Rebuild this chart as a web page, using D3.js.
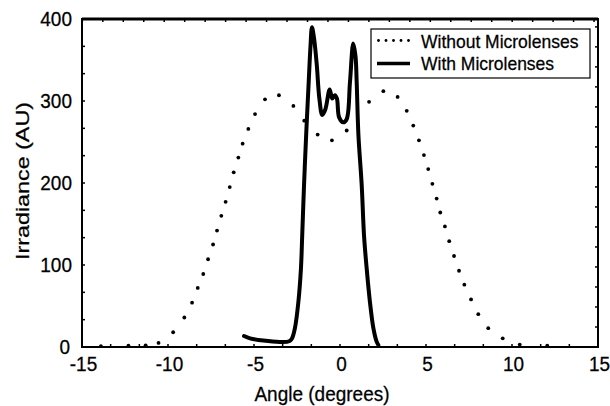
<!DOCTYPE html>
<html lang="en">
<head>
  <meta charset="UTF-8">
  <title>Irradiance vs Angle</title>
  <style>
    body { margin: 0; background: #fff; }
    svg text { font-family: "Liberation Sans", Arial, sans-serif; fill: #000; stroke: #000; stroke-width: 0.25px; }
  </style>
  <script src="https://d3js.org/d3.v7.min.js"></script>
</head>
<body>
<div id="chart"></div>
<script>
  // Without microlenses (dotted)
  var withoutX = [-13.9, -12.3, -11.3, -10.55, -9.7, -9.05, -8.6, -8.27, -7.95, -7.67, -7.38, -7.15, -6.9, -6.65, -6.41, -6.18, -5.91, -5.66, -5.33, -4.94,
                  -4.36, -3.55, -2.71, -2.08, -1.3, -0.47, 0.39, 1.69, 2.52, 3.35, 3.88, 4.26, 4.59, 4.88, 5.13, 5.37, 5.62, 5.83, 6.1, 6.35,
                  6.63, 6.92, 7.23, 7.62, 8.04, 8.62, 9.46, 10.45, 12.05];
  var withoutY = [1, 1.5, 2, 5, 18, 36, 54, 72, 89, 107, 125, 142, 160, 177, 195, 213, 231, 248, 266, 284,
                  302, 307, 294, 276, 259, 252, 264, 299, 312, 305, 288, 270, 252, 234, 217, 199, 181, 164, 147, 129,
                  111, 93, 76, 58, 40, 23, 10.6, 3, 1.5];

  // With microlenses (solid)
  var withX = [-5.58, -5.23, -4.46, -3.49, -2.95, -2.8, -2.62, -2.42, -2.27, -2.2, -2.09, -1.96, -1.82, -1.72, -1.63, -1.5, -1.35, -1.2, -1.03, -0.85,
               -0.6, -0.45, -0.3, -0.18, -0.05, 0.19, 0.39, 0.58, 0.77, 0.9, 0.97, 1.07, 1.26, 1.4, 1.55, 1.74, 1.94, 2.13, 2.23];
  var withY = [13.4, 10.6, 7.8, 6.2, 7, 10, 23, 55, 96, 134, 198, 262, 323, 365, 390, 375, 344, 303, 283, 290,
               314, 303, 307, 303, 280, 274, 278, 323, 370, 355, 323, 259, 198, 135, 96, 55, 23, 6.5, 2.4];

  var xTicks = [-15, -10, -5, 0, 5, 10, 15];
  var yTicks = [0, 100, 200, 300, 400];
  var legendLabels = ["Without Microlenses", "With Microlenses"];

  var width = 610, height = 406;
  var margin = { top: 19, right: 12, bottom: 59, left: 82 };

  var svg = d3.select("#chart").append("svg")
    .attr("width", width)
    .attr("height", height);

  var x = d3.scaleLinear().domain([-15, 15]).range([margin.left, width - margin.right]);
  var y = d3.scaleLinear().domain([0, 400]).range([height - margin.bottom, margin.top]);

  // minor ticks (inward)
  var tickLen = 3;
  var g = svg.append("g").attr("stroke", "#000").attr("stroke-width", 1.5);
  d3.range(-15, 15.01, 5 / 3).forEach(v => {
    g.append("line").attr("x1", x(v)).attr("x2", x(v)).attr("y1", y(0)).attr("y2", y(0) - tickLen);
  });
  d3.range(-14.98, 15, 1.19).forEach(v => {
    g.append("line").attr("x1", x(v)).attr("x2", x(v)).attr("y1", y(400)).attr("y2", y(400) + tickLen);
  });
  d3.range(0, 400.01, 100 / 3).forEach(v => {
    g.append("line").attr("x1", x(-15)).attr("x2", x(-15) + tickLen).attr("y1", y(v)).attr("y2", y(v));
  });
  d3.range(0, 400, 24.4).forEach(v => {
    g.append("line").attr("x1", x(15)).attr("x2", x(15) - tickLen).attr("y1", y(v)).attr("y2", y(v));
  });

  // frame
  svg.append("rect")
    .attr("x", x(-15)).attr("y", y(400))
    .attr("width", x(15) - x(-15)).attr("height", y(0) - y(400))
    .attr("fill", "none").attr("stroke", "#000").attr("stroke-width", 2);
  svg.append("line")
    .attr("x1", x(-15)).attr("x2", x(15)).attr("y1", y(400)).attr("y2", y(400))
    .attr("stroke", "#000").attr("stroke-width", 3);

  // tick labels (scan is slightly stretched vertically)
  svg.append("g").selectAll("text")
    .data(xTicks).enter().append("text")
    .attr("transform", d => "translate(" + (x(d) + 1.5) + "," + (y(0) + 23.5) + ") scale(1,1.1)")
    .attr("text-anchor", "middle").attr("font-size", 19)
    .text(d => d < 0 ? "-" + Math.abs(d) : d);

  svg.append("g").selectAll("text")
    .data(yTicks).enter().append("text")
    .attr("transform", d => "translate(" + (x(-15) - (d === 0 ? 12 : 10)) + "," + (y(d) + 7) + ") scale(1,1.1)")
    .attr("text-anchor", "end").attr("font-size", 19)
    .text(d => d);

  // axis titles
  svg.append("text")
    .attr("transform", "translate(322,401) scale(1,1.1)")
    .attr("text-anchor", "middle").attr("font-size", 19)
    .text("Angle (degrees)");

  svg.append("text")
    .attr("transform", "translate(29,181) rotate(-90)")
    .attr("text-anchor", "middle").attr("font-size", 19)
    .attr("textLength", 158).attr("lengthAdjust", "spacingAndGlyphs")
    .text("Irradiance (AU)");

  // dotted series
  svg.append("g").selectAll("circle")
    .data(withoutX.map((v, i) => [v, withoutY[i]]))
    .enter().append("circle")
    .attr("cx", d => x(d[0])).attr("cy", d => y(d[1]))
    .attr("r", 1.9).attr("fill", "#000");

  // solid series
  var line = d3.line()
    .x(d => x(d[0])).y(d => y(d[1]))
    .curve(d3.curveCatmullRom.alpha(0.5));
  svg.append("path")
    .datum(withX.map((v, i) => [v, withY[i]]))
    .attr("d", line)
    .attr("fill", "none").attr("stroke", "#000")
    .attr("stroke-width", 4).attr("stroke-linejoin", "round").attr("stroke-linecap", "round");

  // legend
  var lg = svg.append("g");
  lg.append("rect")
    .attr("x", 371).attr("y", 29).attr("width", 219).attr("height", 49)
    .attr("fill", "#fff").attr("stroke", "#000").attr("stroke-width", 1.2);
  lg.selectAll("circle.leg")
    .data(d3.range(5)).enter().append("circle")
    .attr("cx", d => 378.5 + d * 7.5).attr("cy", 40.5).attr("r", 1.4).attr("fill", "#000");
  lg.append("line")
    .attr("x1", 377).attr("x2", 410).attr("y1", 63.5).attr("y2", 63.5)
    .attr("stroke", "#000").attr("stroke-width", 3.5);
  lg.selectAll("text")
    .data(legendLabels).enter().append("text")
    .attr("transform", (d, i) => "translate(421," + (47.5 + i * 22.7) + ") scale(1,1.1)")
    .attr("font-size", 17.5)
    .text(d => d);
</script>
</body>
</html>
